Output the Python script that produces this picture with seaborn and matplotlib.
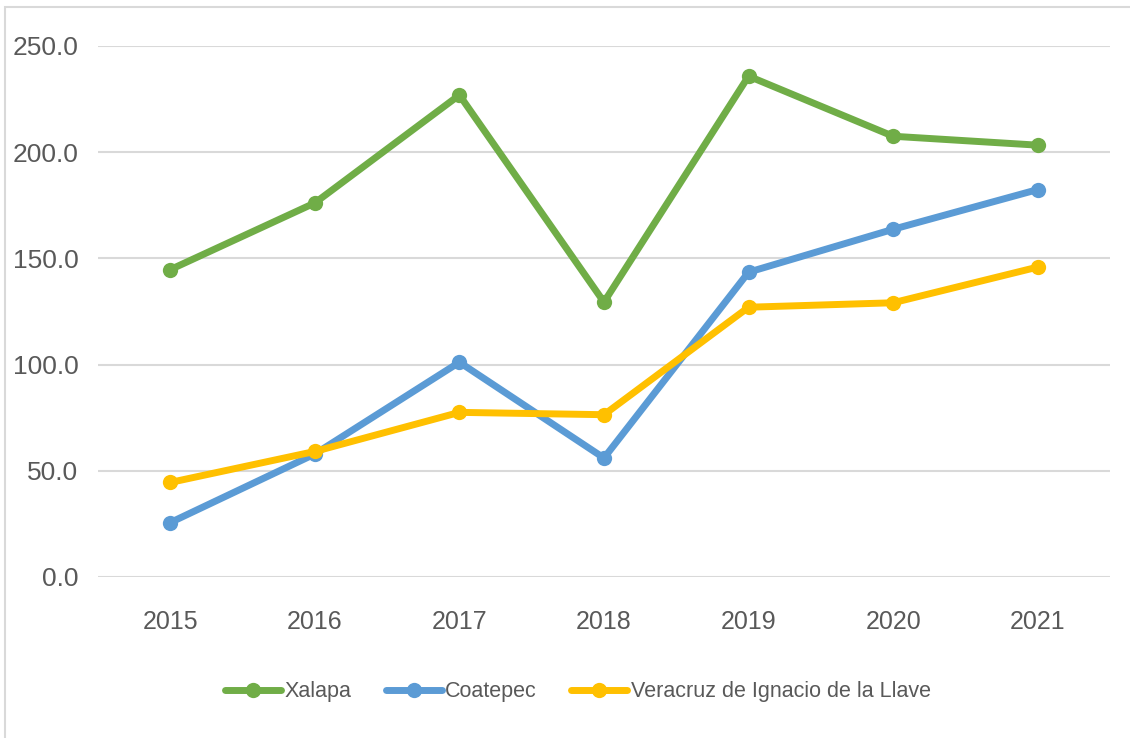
import matplotlib
matplotlib.use("Agg")
import matplotlib.pyplot as plt
import seaborn as sns
import pandas as pd
from matplotlib.ticker import FormatStrFormatter

# Data
years = ["2015", "2016", "2017", "2018", "2019", "2020", "2021"]
xalapa = [144.7, 176.1, 226.9, 129.4, 235.8, 207.5, 203.3]
coatepec = [25.6, 57.9, 101.1, 56.0, 143.5, 163.7, 182.4]
veracruz = [44.5, 59.1, 77.5, 76.4, 127.0, 129.1, 145.9]
series_names = ["Xalapa", "Coatepec", "Veracruz de Ignacio de la Llave"]
colors = ["#70AD47", "#5B9BD5", "#FFC000"]

df = pd.DataFrame({
    "Año": years * 3,
    "Valor": xalapa + coatepec + veracruz,
    "Serie": [s for s in series_names for _ in years],
})

sns.set_theme(style="white")
plt.rcParams['font.family'] = ['Liberation Sans Narrow', 'Liberation Sans', 'DejaVu Sans']

fig = plt.figure(figsize=(11.3, 7.38), dpi=100)
ax = fig.add_axes([0.0867, 0.2182, 0.8956, 0.7195])

sns.lineplot(data=df, x="Año", y="Valor", hue="Serie", palette=colors,
             marker="o", markersize=11, markeredgewidth=0, linewidth=5,
             sort=False, ax=ax, zorder=3)

ax.set_xlim(-0.5, 6.5)
ax.set_ylim(0, 250)
ax.set_yticks([0, 50, 100, 150, 200, 250])
ax.yaxis.set_major_formatter(FormatStrFormatter("%.1f"))
ax.grid(axis="y", color="#D9D9D9", linewidth=1.5, zorder=0)
ax.set_axisbelow(True)
for spine in ax.spines.values():
    spine.set_visible(False)
ax.tick_params(axis="y", length=0, labelsize=19, colors="#595959", pad=14)
ax.tick_params(axis="x", length=0, labelsize=18, colors="#595959", pad=24)
ax.set_xlabel("")
ax.set_ylabel("")

handles, labels = ax.get_legend_handles_labels()
ax.legend(handles, labels, loc="center",
          bbox_to_anchor=(578 / 1130, 1 - 692 / 738),
          bbox_transform=fig.transFigure, frameon=False, ncol=3,
          fontsize=15.5, labelcolor="#595959", handlelength=2.6,
          handletextpad=0.15, columnspacing=1.6)

# Outer chart border
fig.patches.append(plt.Rectangle((0.004, -0.01), 1.2, 1.0, transform=fig.transFigure,
                                 fill=False, edgecolor="#D9D9D9", linewidth=1.5))

plt.savefig("out.png", dpi=100)
